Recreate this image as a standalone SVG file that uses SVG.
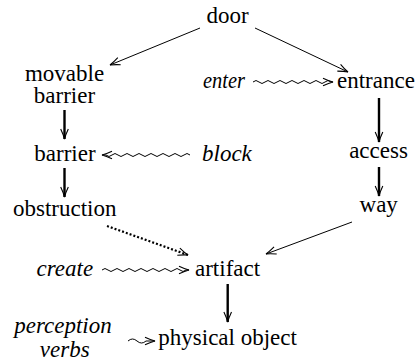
<svg xmlns="http://www.w3.org/2000/svg" width="419" height="363" viewBox="0 0 419 363" font-family="'Liberation Serif', Tinos, 'Times New Roman', 'Nimbus Roman', 'DejaVu Serif', serif" font-size="23">
<style>
.it{font-style:italic}
.thin{stroke:#000;stroke-width:1;fill:none}
.thick{stroke:#000;stroke-width:2.4;fill:none}
.dot{stroke:#000;stroke-width:2.2;fill:none;stroke-dasharray:2 2}
.wave{stroke:#000;stroke-width:1;fill:none}
</style>
<defs>
<marker id="ah" markerUnits="userSpaceOnUse" viewBox="-12 -6 14 12" refX="0" refY="0" markerWidth="14" markerHeight="12" orient="auto" overflow="visible">
<path d="M-10,-3.8 Q-4,-1 0,0 Q-4,1 -10,3.8" fill="none" stroke="#000" stroke-width="1.1"/>
</marker>
</defs>
<rect width="419" height="363" fill="#fff"/>
<g id="connectors">
<line class="thin" x1="200" y1="28" x2="110" y2="65" marker-end="url(#ah)"/>
<line class="thin" x1="255" y1="28" x2="348" y2="72" marker-end="url(#ah)"/>
<line class="thick" x1="379" y1="98" x2="379" y2="142" marker-end="url(#ah)"/>
<line class="thick" x1="379" y1="167" x2="379" y2="196" marker-end="url(#ah)"/>
<line class="thin" x1="352" y1="222" x2="266" y2="254" marker-end="url(#ah)"/>
<line class="thick" x1="64.5" y1="110" x2="64.5" y2="139" marker-end="url(#ah)"/>
<line class="thick" x1="64.5" y1="168" x2="64.5" y2="197" marker-end="url(#ah)"/>
<line class="dot" x1="107" y1="226" x2="188" y2="255" marker-end="url(#ah)"/>
<line class="thick" x1="227.7" y1="284" x2="227.7" y2="322" marker-end="url(#ah)"/>
<path class="wave" d="M253,82 q3,-3 6,0 t6,0 t6,0 t6,0 t6,0 t6,0 t6,0 t6,0 t6,0 t6,0 t6,0 t6,0 t6,0 l2,0" marker-end="url(#ah)"/>
<path class="wave" d="M190,155 q-3,-3 -6,0 t-6,0 t-6,0 t-6,0 t-6,0 t-6,0 t-6,0 t-6,0 t-6,0 t-6,0 t-6,0 t-6,0 t-6,0 t-6,0 l-4,0" marker-end="url(#ah)"/>
<path class="wave" d="M102,270 q3,-3 6,0 t6,0 t6,0 t6,0 t6,0 t6,0 t6,0 t6,0 t6,0 t6,0 t6,0 t6,0 t6,0 t6,0 l3,0" marker-end="url(#ah)"/>
<path class="wave" d="M128,341 q4.5,-4 9,0 t9,0 l9,0" marker-end="url(#ah)"/>
</g>
<g id="door"><text x="227.5" y="23" text-anchor="middle">door</text></g>
<g id="movable-barrier"><text x="64.5" y="81" text-anchor="middle">movable</text><text x="64.5" y="103" text-anchor="middle">barrier</text></g>
<g id="enter"><text class="it" x="203" y="88" textLength="42" lengthAdjust="spacingAndGlyphs">enter</text></g>
<g id="entrance"><text x="337" y="88">entrance</text></g>
<g id="barrier"><text x="65" y="161" text-anchor="middle">barrier</text></g>
<g id="block"><text class="it" x="202" y="161">block</text></g>
<g id="access"><text x="378.5" y="158" text-anchor="middle">access</text></g>
<g id="obstruction"><text x="13" y="216">obstruction</text></g>
<g id="way"><text x="378.7" y="212" text-anchor="middle">way</text></g>
<g id="create"><text class="it" x="36.5" y="276">create</text></g>
<g id="artifact"><text x="195" y="276">artifact</text></g>
<g id="perception-verbs"><text class="it" x="63" y="333" text-anchor="middle">perception</text><text class="it" x="64.7" y="357" text-anchor="middle">verbs</text></g>
<g id="physical-object"><text x="158.3" y="345">physical object</text></g>
</svg>
